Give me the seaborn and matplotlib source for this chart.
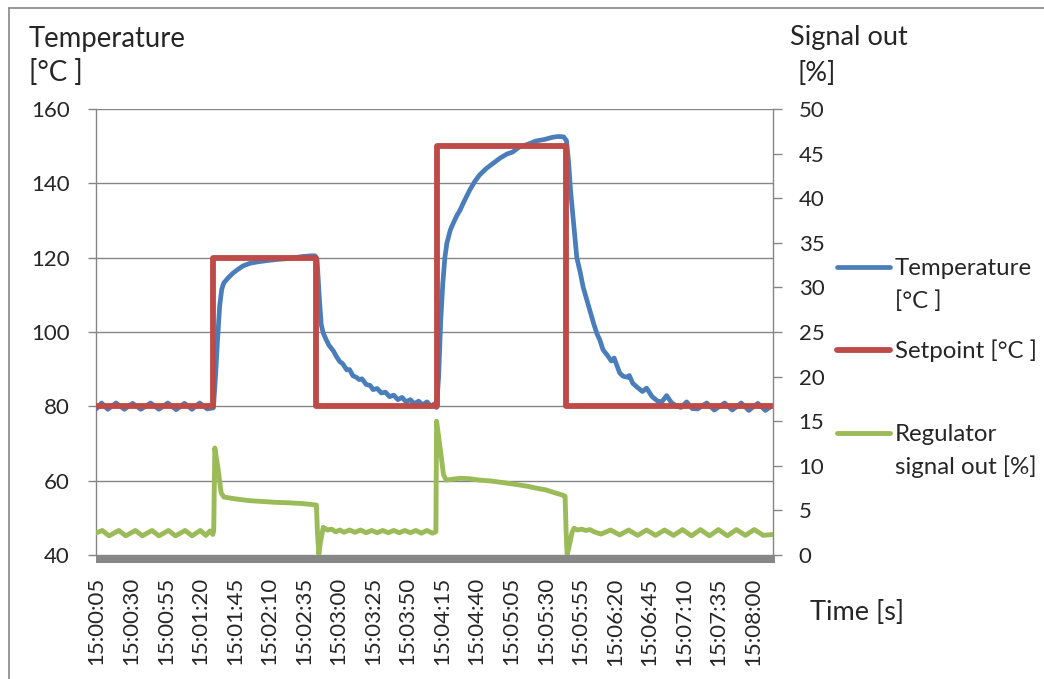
import matplotlib
matplotlib.use("Agg")
import matplotlib.pyplot as plt
import seaborn as sns
from matplotlib.lines import Line2D
from matplotlib.patches import Rectangle

# seconds after 15:00:00
temp_t = [5, 8.5, 13, 19, 25, 31, 37, 44, 50, 56.5, 62.5, 68.5, 74, 79.5, 85, 89.5,
          91, 92.5, 94, 95.5, 97, 100, 103.5, 107, 111, 116, 122, 128, 135, 142, 148, 154, 160, 163,
          164.5, 166, 167.5, 169, 171, 173, 175, 176.5, 178.5, 181, 183, 186, 188, 190.5, 193, 195, 197,
          200, 203, 205, 208, 211, 214, 217, 220, 223, 226, 229, 232, 235, 238, 241, 244, 247, 249.5, 251,
          252.5, 254, 255.5, 257, 258.5, 261, 263, 265.5, 268, 271, 275, 278.5, 282, 287, 292, 297, 302,
          306, 311, 317, 323, 329, 335, 339, 343, 345, 346.5, 348, 350, 352.5, 355, 357, 359.5, 362,
          364.5, 367, 369, 371.5, 374.5, 377.5, 379.5, 383.5, 386, 389.5, 390.5, 393, 396, 400, 403, 407,
          411, 414, 417.5, 421, 425, 428, 432, 436, 440, 446.5, 452, 459.5, 465, 471.5, 477, 483.5, 489, 494]
temp_val = [79.4, 80.9, 79.2, 80.9, 79.2, 80.8, 79.2, 80.9, 79.2, 80.9, 79.1, 80.8, 79.2, 80.9, 79.3, 79.6,
            88, 98, 107, 111.5, 113.2, 114.5, 115.8, 116.8, 117.8, 118.5, 118.9, 119.2, 119.5, 119.7, 120, 120.3, 120.5, 120.5,
            119.5, 110, 102, 99.7, 98, 96.5, 95.5, 94.8, 93.4, 92.0, 91.5, 89.8, 89.9, 88.2, 87.8, 87.2, 87.4,
            85.9, 85.6, 84.5, 84.8, 83.6, 83.8, 82.6, 83.0, 81.8, 82.4, 81.2, 81.8, 80.7, 81.4, 80.4, 81.2, 80.0, 80.7, 79.7,
            88, 103, 113, 120, 124, 127.5, 129.2, 131.2, 132.8, 135.2, 138.2, 140.4, 142.2, 144, 145.4, 146.8, 147.9,
            148.4, 149.8, 150.5, 151.4, 151.8, 152.4, 152.6, 152.5, 151.5, 146, 138, 130, 120, 116, 112.2, 109, 105.9,
            102.5, 99.6, 98.0, 95.2, 93.8, 92.2, 93.0, 89, 88.1, 87.8, 88.3, 86.2, 85.2, 84.0, 84.9, 82.6,
            81.4, 81.2, 82.9, 81.0, 80.0, 79.7, 81.2, 79.4, 79.3, 80.9, 79.0, 80.9, 79.0, 80.9, 78.9, 80.8, 78.9, 80.2]

setpoint_t = [5, 89, 89, 164, 164, 251, 251, 344.5, 344.5, 494]
setpoint_val = [80, 80, 120, 120, 80, 80, 150, 150, 80, 80]

signal_t = [5, 9, 14, 21, 26, 33, 38, 45, 50, 57, 62, 69, 74, 80, 84, 87, 89,
            89.7, 90.5, 93, 95, 97, 105, 115, 125, 135, 145, 155, 164, 164.8, 165.8, 167, 169,
            172, 175, 178, 181, 184, 188, 192, 196, 200, 204, 208, 212, 216, 220, 224, 228, 232, 236,
            240, 244, 248, 250.5, 251, 254, 256, 258, 263, 268, 275, 282, 290, 300, 311, 317, 323, 330,
            336, 342.5, 344, 344.8, 345.5, 347, 349, 350.5, 353, 356, 359, 362, 365, 370, 377, 383.5,
            390, 396.5, 403, 409.5, 416, 422.5, 429, 435.5, 442, 448.5, 455, 461.5, 468, 474.5, 481, 487.5, 494]
signal_val = [2.5, 2.75, 2.15, 2.75, 2.15, 2.75, 2.15, 2.75, 2.15, 2.75, 2.15, 2.75, 2.15, 2.75, 2.2, 2.7, 2.3,
              2.7, 12.0, 9.5, 7.0, 6.5, 6.3, 6.1, 6.0, 5.9, 5.85, 5.75, 5.6, 2.5, 0.1, 1.5, 3.1,
              2.8, 2.9, 2.6, 2.8, 2.55, 2.8, 2.55, 2.8, 2.5, 2.75, 2.5, 2.75, 2.5, 2.75, 2.5, 2.75, 2.5, 2.75,
              2.45, 2.75, 2.45, 2.6, 15.0, 11.5, 9.0, 8.4, 8.5, 8.6, 8.55, 8.4, 8.3, 8.1, 7.85, 7.7, 7.5, 7.3,
              7.0, 6.7, 6.6, 2.5, 0.0, 1.0, 2.5, 3.0, 2.8, 2.9, 2.75, 2.85, 2.6, 2.35, 2.8, 2.25,
              2.8, 2.2, 2.8, 2.2, 2.8, 2.2, 2.85, 2.15, 2.85, 2.15, 2.85, 2.15, 2.85, 2.2, 2.85, 2.2, 2.3]

tick_t = list(range(5, 481, 25))
tick_labels = ["15:%02d:%02d" % (t // 60, t % 60) for t in tick_t]

left_ticks = [40, 60, 80, 100, 120, 140, 160]
right_ticks = [0, 5, 10, 15, 20, 25, 30, 35, 40, 45, 50]

legend_names = [["Temperature", "[°C ]"], ["Setpoint [°C ]"], ["Regulator", "signal out [%]"]]

BLUE = "#4A7EBB"
RED = "#BE4B48"
GREEN = "#9BBB59"
GRAY = "#868686"

sns.set_theme(style="white")
plt.rcParams['font.family'] = ['Lato', 'DejaVu Sans']

W, H = 1044, 679
fig = plt.figure(figsize=(W / 100, H / 100), dpi=100)
ax = fig.add_axes([96 / W, 1 - 555 / H, 677 / W, 446 / H])

def px(x, y):
    return x / W, 1 - y / H

sns.lineplot(x=temp_t, y=temp_val, ax=ax, color=BLUE, lw=3.4, estimator=None, sort=False, zorder=3)
sns.lineplot(x=setpoint_t, y=setpoint_val, ax=ax, color=RED, lw=4.2, estimator=None, sort=False, zorder=4)
ax.set_xlim(4.5, 494.5)
ax.set_ylim(40, 160)
ax.set_yticks(left_ticks)
ax.set_xticks(tick_t)
ax.set_xticklabels(tick_labels, rotation=90, fontsize=16)
ax.tick_params(axis='x', length=0, pad=16)
ax.tick_params(axis='y', direction='out', length=5.8, width=1, color=GRAY, pad=13, labelsize=16, left=True)
ax.grid(axis='y', color=GRAY, lw=1)
ax.set_axisbelow(True)
for s in ['top', 'right', 'bottom']:
    ax.spines[s].set_visible(False)
ax.spines['left'].set_color(GRAY)
ax.spines['left'].set_linewidth(1)
ax.set_xlabel("")
ax.set_ylabel("")

# grey floor band under the plot area
ax.add_patch(Rectangle((0, -8 / 446), 679 / 677, 8 / 446, transform=ax.transAxes,
                       color="#878787", clip_on=False, zorder=1, lw=0))

ax2 = ax.twinx()
sns.lineplot(x=signal_t, y=signal_val, ax=ax2, color=GREEN, lw=3.5, estimator=None, sort=False, zorder=5)
ax2.set_ylim(0, 50)
ax2.set_yticks(right_ticks)
ax2.tick_params(axis='y', direction='out', length=6.5, width=1, color=GRAY, pad=12, labelsize=16, right=True)
for s in ['top', 'left', 'bottom']:
    ax2.spines[s].set_visible(False)
ax2.spines['right'].set_color(GRAY)
ax2.spines['right'].set_linewidth(1)
ax2.set_ylabel("")
ax2.set_xlabel("")

# axis titles
fig.text(*px(29, 47), "Temperature", fontsize=19.8, va='baseline', ha='left')
fig.text(*px(29, 81), "[°C ]", fontsize=19.8, va='baseline', ha='left')
fig.text(*px(790, 45), "Signal out", fontsize=19.5, va='baseline', ha='left')
fig.text(*px(797, 81), "[%]", fontsize=19.5, va='baseline', ha='left')
fig.text(*px(810, 620), "Time [s]", fontsize=19.5, va='baseline', ha='left')

# legend drawn by hand so the line sits on the first text line
leg_y = [267, 350, 433]
leg_colors = [BLUE, RED, GREEN]
leg_lw = [3.4, 4.2, 3.5]
for name, y, c, lw in zip(legend_names, leg_y, leg_colors, leg_lw):
    fig.add_artist(Line2D([837 / W, 890 / W], [1 - y / H] * 2, color=c, lw=lw, solid_capstyle='round'))
    for i, line in enumerate(name):
        fig.text(*px(895, y + 8 + 33 * i), line, fontsize=17.3, va='baseline', ha='left')

# outer chart frame
fig.add_artist(Line2D([9 / W, 1], [1 - 8 / H] * 2, color=GRAY, lw=1.2))
fig.add_artist(Line2D([9 / W] * 2, [1 - 8 / H, 0], color=GRAY, lw=1.2))

fig.savefig("out.png", dpi=100)
